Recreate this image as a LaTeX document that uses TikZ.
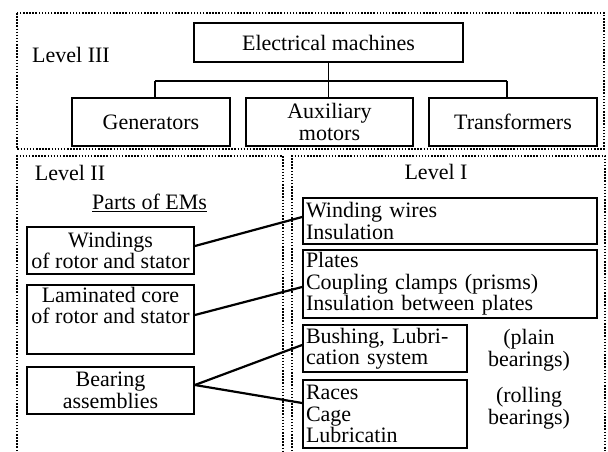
\documentclass[tikz,border=0pt]{standalone}
\usepackage{fontspec}
\setmainfont{Liberation Serif}
\begin{document}
\begin{tikzpicture}[x=1pt,y=-1pt,
  every node/.style={font=\fontsize{22}{21.5}\selectfont},
  box/.style={draw, line width=1.8pt, inner sep=0pt, align=center},
  lbox/.style={draw, line width=1.8pt, inner xsep=3pt, inner ysep=0pt, align=left},
  dotbox/.style={line width=2pt, dash pattern=on 1.5pt off 1.6pt},
  conn/.style={line width=2.2pt},
  tree/.style={line width=1.9pt},
  lbl/.style={inner sep=0pt, align=center}]
\useasboundingbox (0,0) rectangle (608,451);

% dotted level frames
\draw[dotbox] (17,13) rectangle (604,149);
\draw[dotbox] (17,451) -- (17,156) -- (283,156) -- (283,451);
\draw[dotbox] (292,451) -- (292,156) -- (605,156) -- (605,451);

% Level III
\node[lbl] (l3) at (71,55) {Level III};
\node[box, minimum width=269pt, minimum height=39pt] (em) at (328.5,42.5) {Electrical machines};
\node[box, minimum width=158pt, minimum height=48pt] (gen) at (151,122) {Generators};
\node[box, minimum width=167pt, minimum height=48pt] (aux) at (329.5,122) {Auxiliary\\motors};
\node[box, minimum width=168pt, minimum height=48pt] (tr) at (513,122) {Transformers};
\coordinate (busL) at (155,81);
\coordinate (busR) at (507,81);
\draw[tree] (em.south) -- (em.south |- aux.north);
\draw[tree] (busL) -- (busR);
\draw[tree] (busL) -- (busL |- gen.north);
\draw[tree] (busR) -- (busR |- tr.north);

% Level II
\node[lbl] (l2) at (70,173) {Level II};
\node[lbl] (parts) at (149.5,203) {\underline{Parts of EMs}};
\node[box, minimum width=167pt, minimum height=47pt] (win) at (110.5,250.5) {Windings\\of rotor and stator};
\node[box, minimum width=167pt, minimum height=69pt] (lam) at (110.5,319.5) {Laminated core\\of rotor and stator\\\strut};
\node[box, minimum width=167pt, minimum height=47pt] (bear) at (110.5,390.5) {Bearing\\assemblies};

% Level I
\node[lbl] (l1) at (436,172) {Level I};
\node[lbox, text width=288pt, minimum height=46pt] (ww) at (450,221) {Winding wires\\Insulation};
\node[lbox, text width=288pt, minimum height=68pt] (pl) at (450,284) {Plates\\Coupling clamps (prisms)\\Insulation between plates};
\node[lbox, text width=158pt, minimum height=47pt] (bu) at (385,348.5) {Bushing, Lubri-\\cation system};
\node[lbox, text width=158pt, minimum height=68pt] (ra) at (385,414) {Races\\Cage\\Lubricatin};
\node[lbl] (plain) at (529,350) {(plain\\bearings)};
\node[lbl] (roll) at (529,408) {(rolling\\bearings)};

% connectors
\draw[conn] ([yshift=4.5pt]win.east) -- ([yshift=4pt]ww.west);
\draw[conn] ([yshift=4.5pt]lam.east) -- ([yshift=-3pt]pl.west);
\draw[conn] ([yshift=5.5pt]bear.east) -- ([yshift=3.5pt]bu.west);
\draw[conn] ([yshift=5.5pt]bear.east) -- ([yshift=11pt]ra.west);
\end{tikzpicture}
\end{document}
